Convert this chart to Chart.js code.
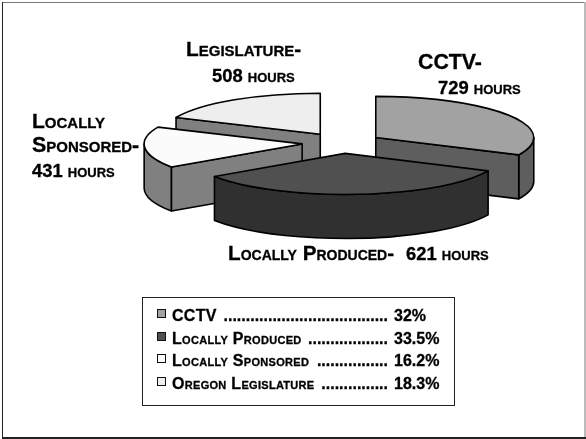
<!DOCTYPE html>
<html>
<head>
<meta charset="utf-8">
<style>
    html, body { margin: 0; padding: 0; background: #fff; }
    #wrap { position: absolute; left: 0; top: 0; width: 586px; height: 439px; }
</style>
<script src="https://cdn.jsdelivr.net/npm/chart.js@4/dist/chart.umd.min.js"></script>
</head>
<body>
<div id="wrap"><canvas id="pie" width="586" height="439"></canvas></div>
<script>
// Data
const categories = ['CCTV', 'Locally Produced', 'Locally Sponsored', 'Oregon Legislature'];
const shares = [32, 33.5, 16.2, 18.3];
const shareLabels = ['32%', '33.5%', '16.2%', '18.3%'];
const topColors = ['#a2a2a2', '#505050', '#fbfbfb', '#eeeeee'];
const sideColors = ['#5e5e5e', '#303030', '#808080', '#808080'];

// Callouts round the pie: [text, x, baseline, size]
const callouts = [
    ['Legislature-', 186, 56, 20.8],
    ['508 hours', 212, 81.5, 18.4],
    ['CCTV-', 418, 69, 21.3],
    ['729 hours', 438, 93.5, 18.4],
    ['Locally', 32, 128, 21],
    ['Sponsored-', 32, 152, 21.4],
    ['431 hours', 32, 176.5, 18.4],
    ['Locally Produced-', 228, 260, 20.7],
    ['621 hours', 406, 260, 18.4]
];

const SQUASH = 0.26;
const EXPLODE = 40;
const DEPTH = 44;
const FONT = '"Liberation Sans", Arial, sans-serif';

// Back to front, so the nearer walls cover the farther ones
const sideOrder = [3, 0, 2, 1];

function sliceOffset(el) {
    const mid = (el.startAngle + el.endAngle) / 2;
    return {
        x: el.x + Math.cos(mid) * EXPLODE,
        y: el.y + Math.sin(mid) * EXPLODE * SQUASH
    };
}

function rimPoint(c, r, a) {
    return { x: c.x + Math.cos(a) * r, y: c.y + Math.sin(a) * r * SQUASH };
}

function drawFace(ctx, c, p, color) {
    ctx.beginPath();
    ctx.moveTo(c.x, c.y);
    ctx.lineTo(p.x, p.y);
    ctx.lineTo(p.x, p.y + DEPTH);
    ctx.lineTo(c.x, c.y + DEPTH);
    ctx.closePath();
    ctx.fillStyle = color;
    ctx.fill();
    ctx.stroke();
}

function drawWall(ctx, c, r, from, to, color) {
    ctx.beginPath();
    ctx.ellipse(c.x, c.y, r, r * SQUASH, 0, from, to);
    ctx.ellipse(c.x, c.y + DEPTH, r, r * SQUASH, 0, to, from, true);
    ctx.closePath();
    ctx.fillStyle = color;
    ctx.fill();
    ctx.stroke();
}

function drawSides(ctx, el, color) {
    const c = sliceOffset(el);
    const r = el.outerRadius;
    const tau = Math.PI * 2;
    const start = el.startAngle;
    const end = el.endAngle;

    // only the part of the rim that faces the viewer
    const from = Math.max(start, 0);
    const to = Math.min(end, Math.PI);
    if (to > from) drawWall(ctx, c, r, from, to, color);

    if (Math.cos(start) < -1e-6) drawFace(ctx, c, rimPoint(c, r, start), color);
    if (Math.cos(end) > 1e-6 && end < tau) drawFace(ctx, c, rimPoint(c, r, end), color);
}

function drawTop(ctx, el) {
    const c = sliceOffset(el);
    ctx.save();
    ctx.translate(c.x, c.y);
    ctx.scale(1, SQUASH);
    ctx.translate(-el.x, -el.y);
    el.draw(ctx);
    ctx.restore();

    ctx.beginPath();
    ctx.moveTo(c.x, c.y);
    ctx.ellipse(c.x, c.y, el.outerRadius, el.outerRadius * SQUASH, 0, el.startAngle, el.endAngle);
    ctx.closePath();
    ctx.stroke();
}

// the scan is heavier than plain bold, so thicken the glyphs a little
function heavyText(ctx, text, x, y) {
    ctx.fillText(text, x, y);
    ctx.strokeText(text, x, y);
}

function drawLegendBox(ctx) {
    ctx.fillStyle = '#fff';
    ctx.strokeStyle = '#222';
    ctx.lineWidth = 1;
    ctx.fillRect(142, 297, 312, 108);
    ctx.strokeRect(142.5, 297.5, 312, 108);

    categories.forEach((name, i) => {
        const base = 321 + i * 22.7;
        const boxY = Math.round(base) - 11.5;
        ctx.fillStyle = topColors[i];
        ctx.strokeStyle = '#111';
        ctx.lineWidth = 1;
        ctx.fillRect(157.5, boxY, 8, 8);
        ctx.strokeRect(157.5, boxY, 8, 8);

        ctx.fillStyle = '#000';
        ctx.strokeStyle = '#000';
        ctx.lineWidth = 0.3;
        ctx.textAlign = 'left';
        ctx.font = 'small-caps bold 16px ' + FONT;
        ctx.letterSpacing = '0.3px';
        heavyText(ctx, name, 172, base);
        const nameW = ctx.measureText(name + ' ').width;
        ctx.letterSpacing = '0px';

        ctx.font = 'bold 16px ' + FONT;
        const dotW = ctx.measureText('.').width;
        const n = Math.floor((388 - 172 - nameW) / dotW);
        heavyText(ctx, '.'.repeat(n), 388 - n * dotW, base);
        heavyText(ctx, shareLabels[i], 394, base);
    });
}

const pie3d = {
    id: 'pie3d',
    beforeDraw(chart) {
        const ctx = chart.ctx;
        ctx.save();
        ctx.fillStyle = '#fff';
        ctx.fillRect(0, 0, 586, 439);
        ctx.fillStyle = '#777';
        ctx.fillRect(2, 2, 583, 1);
        ctx.fillStyle = '#bbb';
        ctx.fillRect(584, 2, 2, 436);
        ctx.fillStyle = '#222';
        ctx.fillRect(2, 2, 1, 436);
        ctx.fillRect(2, 437, 584, 2);
        ctx.restore();
    },
    beforeDatasetsDraw(chart) {
        const ctx = chart.ctx;
        const arcs = chart.getDatasetMeta(0).data;
        ctx.save();
        ctx.strokeStyle = '#000';
        ctx.lineWidth = 1.6;
        ctx.lineJoin = 'round';
        sideOrder.forEach(i => drawSides(ctx, arcs[i], sideColors[i]));
        arcs.forEach(el => drawTop(ctx, el));
        ctx.restore();
        return false;
    },
    afterDraw(chart) {
        const ctx = chart.ctx;
        ctx.save();
        ctx.textBaseline = 'alphabetic';
        ctx.fillStyle = '#000';
        ctx.strokeStyle = '#000';
        ctx.lineWidth = 0.3;
        callouts.forEach(([text, x, y, size]) => {
            ctx.font = 'small-caps bold ' + size + 'px ' + FONT;
            heavyText(ctx, text, x, y);
        });
        drawLegendBox(ctx);
        ctx.restore();
    }
};

new Chart(document.getElementById('pie'), {
    type: 'pie',
    data: {
        labels: categories,
        datasets: [{
            data: shares,
            backgroundColor: topColors,
            borderWidth: 0
        }]
    },
    options: {
        responsive: false,
        animation: false,
        events: [],
        radius: 158,
        layout: { padding: { left: 98, top: 0, right: 0, bottom: 153 } },
        plugins: {
            legend: { display: false },
            tooltip: { enabled: false }
        }
    },
    plugins: [pie3d]
});
</script>
</body>
</html>
